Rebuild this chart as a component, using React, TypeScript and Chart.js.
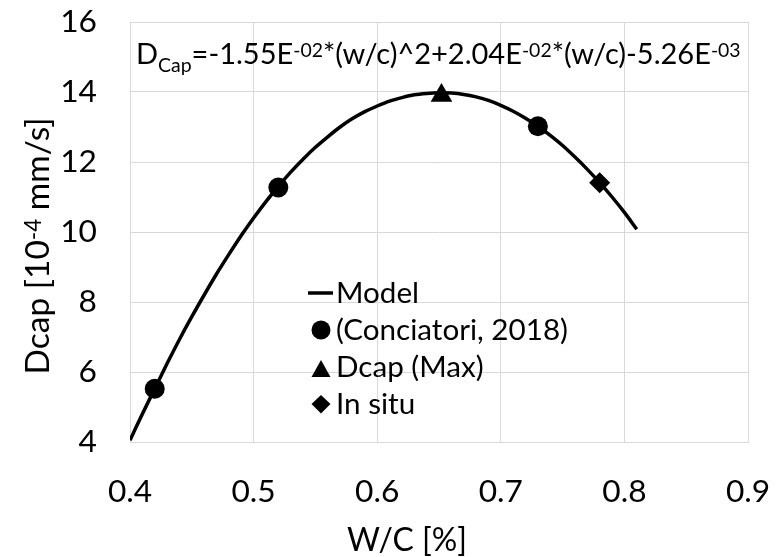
import React, { useEffect, useRef } from 'react';
import { Chart, registerables } from 'chart.js';

Chart.register(...registerables);

const FONT = 'Lato';

// Model curve
const modelX = [0.40, 0.41, 0.42, 0.43, 0.44, 0.45, 0.46, 0.47, 0.48, 0.49, 0.50, 0.51, 0.52, 0.53, 0.54, 0.55, 0.56, 0.57, 0.58, 0.59, 0.60, 0.61, 0.62, 0.63, 0.64, 0.65, 0.66, 0.67, 0.68, 0.69, 0.70, 0.71, 0.72, 0.73, 0.74, 0.75, 0.76, 0.77, 0.78, 0.79, 0.80, 0.81];
const modelY = [4.05, 4.80, 5.52, 6.24, 6.93, 7.58, 8.20, 8.80, 9.36, 9.90, 10.40, 10.87, 11.30, 11.71, 12.08, 12.42, 12.72, 13.00, 13.24, 13.44, 13.60, 13.74, 13.84, 13.92, 13.96, 13.98, 13.97, 13.93, 13.86, 13.76, 13.62, 13.45, 13.25, 13.02, 12.76, 12.47, 12.14, 11.79, 11.41, 11.00, 10.56, 10.08];

const conciatoriX = [0.42, 0.52, 0.73];
const conciatoriY = [5.52, 11.27, 13.02];
const maxX = [0.652];
const maxY = [13.9];
const inSituX = [0.78];
const inSituY = [11.41];

const xMin = 0.4, xMax = 0.9, xStep = 0.1;
const yMin = 4, yMax = 16, yStep = 2;

const legendLabels = ['Model', '(Conciatori, 2018)', 'Dcap (Max)', 'In situ'];
const xTitle = 'W/C [%]';
const yTitleParts = [
  { t: 'Dcap [10', k: 'n' },
  { t: '-4', k: 'sup' },
  { t: ' mm/s]', k: 'n' },
];
const equationParts = [
  { t: 'D', k: 'n' },
  { t: 'Cap', k: 'sub' },
  { t: '=-1.55E', k: 'n' },
  { t: '-02', k: 'sup' },
  { t: '*(w/c)^2+2.04E', k: 'n' },
  { t: '-02', k: 'sup' },
  { t: '*(w/c)-5.26E', k: 'n' },
  { t: '-03', k: 'sup' },
];

type Part = { t: string; k: string };

const SMALL = 0.67;

function textW(ctx: CanvasRenderingContext2D, text: string, size: number) {
  ctx.font = `${size}px ${FONT}`;
  return ctx.measureText(text).width;
}
function fitSize(ctx: CanvasRenderingContext2D, text: string, target: number) {
  return (100 * target) / textW(ctx, text, 100);
}
function richW(ctx: CanvasRenderingContext2D, parts: Part[], size: number) {
  let w = 0;
  for (const p of parts) w += textW(ctx, p.t, p.k === 'n' ? size : size * SMALL);
  return w;
}
function fitRich(ctx: CanvasRenderingContext2D, parts: Part[], target: number) {
  return (100 * target) / richW(ctx, parts, 100);
}
function drawRich(ctx: CanvasRenderingContext2D, parts: Part[], x: number, y: number, size: number, subOff: number, supOff: number) {
  let cx = x;
  ctx.textAlign = 'left';
  ctx.textBaseline = 'alphabetic';
  for (const p of parts) {
    const s = p.k === 'n' ? size : size * SMALL;
    ctx.font = `${s}px ${FONT}`;
    const dy = p.k === 'sub' ? subOff : p.k === 'sup' ? -supOff : 0;
    ctx.fillText(p.t, cx, y + dy);
    cx += ctx.measureText(p.t).width;
  }
}

function zeroPad(s: any) {
  s.paddingTop = 0;
  s.paddingBottom = 0;
  s.paddingLeft = 0;
  s.paddingRight = 0;
}

export default function App() {
  const ref = useRef<HTMLCanvasElement | null>(null);

  useEffect(() => {
    const canvas = ref.current;
    if (!canvas) return;
    const scratch = document.createElement('canvas').getContext('2d') as CanvasRenderingContext2D;
    const tickSize = (fitSize(scratch, '0.4', 44) + fitSize(scratch, '16', 37)) / 2;
    const legendSize = fitSize(scratch, legendLabels[1], 232);
    const eqSize = fitRich(scratch, equationParts, 605);
    const yTitleSize = fitRich(scratch, yTitleParts, 257);
    const xTitleSize = fitSize(scratch, xTitle, 120);

    const overlay = {
      id: 'overlay',
      afterDraw(chart: any) {
        const ctx: CanvasRenderingContext2D = chart.ctx;
        const ca = chart.chartArea;
        ctx.save();
        ctx.fillStyle = '#000';
        ctx.strokeStyle = '#000';

        // equation
        drawRich(ctx, equationParts, ca.left + 6, ca.top + 41.5, eqSize, eqSize * 0.3, eqSize * 0.23);

        // legend
        const lx = 321;
        const tx = 336;
        const rows = [303, 340, 377, 414];
        ctx.font = `${legendSize}px ${FONT}`;
        ctx.textAlign = 'left';
        ctx.textBaseline = 'alphabetic';
        legendLabels.forEach((l, i) => ctx.fillText(l, tx, rows[i]));
        // line symbol
        ctx.lineWidth = 3.5;
        ctx.beginPath();
        ctx.moveTo(308, 293);
        ctx.lineTo(333, 293);
        ctx.stroke();
        // circle
        ctx.beginPath();
        ctx.arc(lx, 330, 9.5, 0, Math.PI * 2);
        ctx.fill();
        // triangle
        ctx.beginPath();
        ctx.moveTo(lx, 360);
        ctx.lineTo(lx + 9.5, 377);
        ctx.lineTo(lx - 9.5, 377);
        ctx.closePath();
        ctx.fill();
        // diamond
        ctx.beginPath();
        ctx.moveTo(lx, 395);
        ctx.lineTo(lx + 9.5, 404);
        ctx.lineTo(lx, 413.5);
        ctx.lineTo(lx - 9.5, 404);
        ctx.closePath();
        ctx.fill();

        // x title
        ctx.font = `${xTitleSize}px ${FONT}`;
        ctx.textAlign = 'center';
        ctx.fillText(xTitle, 407, 551);

        // y title
        const w = richW(ctx, yTitleParts, yTitleSize);
        ctx.translate(49, 246);
        ctx.rotate(-Math.PI / 2);
        drawRich(ctx, yTitleParts, -w / 2, 0, yTitleSize, 0, yTitleSize * 0.25);
        ctx.restore();
      },
    };

    const chart = new Chart(canvas, {
      type: 'scatter',
      data: {
        datasets: [
          {
            label: legendLabels[1],
            data: conciatoriX.map((x, i) => ({ x, y: conciatoriY[i] })),
            pointStyle: 'circle',
            pointRadius: 10,
            backgroundColor: '#000',
            borderColor: '#000',
            borderWidth: 0,
            order: 0,
          },
          {
            label: legendLabels[2],
            data: maxX.map((x, i) => ({ x, y: maxY[i] })),
            pointStyle: 'triangle',
            pointRadius: 12.5,
            backgroundColor: '#000',
            borderColor: '#000',
            borderWidth: 0,
            order: 0,
          },
          {
            label: legendLabels[3],
            data: inSituX.map((x, i) => ({ x, y: inSituY[i] })),
            pointStyle: 'rectRot',
            pointRadius: 10.5,
            backgroundColor: '#000',
            borderColor: '#000',
            borderWidth: 0,
            order: 0,
          },
          {
            label: legendLabels[0],
            data: modelX.map((x, i) => ({ x, y: modelY[i] })),
            showLine: true,
            pointRadius: 0,
            borderColor: '#000',
            borderWidth: 3.5,
            tension: 0.3,
            order: 1,
          } as any,
        ],
      },
      options: {
        responsive: false,
        animation: false,
        layout: { padding: { top: 22, right: 30, left: 0, bottom: 0 } },
        plugins: { legend: { display: false }, tooltip: { enabled: false } },
        scales: {
          x: {
            type: 'linear',
            min: xMin,
            max: xMax,
            ticks: {
              stepSize: xStep,
              color: '#000',
              font: { family: FONT, size: tickSize },
              padding: 31,
              maxRotation: 0,
              callback: (v: any) => Number(v).toFixed(1),
            },
            grid: { color: '#d9d9d9', lineWidth: 1, drawTicks: false },
            border: { color: '#d9d9d9', width: 1 },
            afterFit: (s: any) => { s.height = 115; zeroPad(s); },
          },
          y: {
            type: 'linear',
            min: yMin,
            max: yMax,
            ticks: {
              stepSize: yStep,
              color: '#000',
              font: { family: FONT, size: tickSize },
              padding: 33,
              callback: (v: any) => String(Math.round(Number(v))),
            },
            grid: { color: '#d9d9d9', lineWidth: 1, drawTicks: false },
            border: { color: '#d9d9d9', width: 1 },
            afterFit: (s: any) => { s.width = 130; zeroPad(s); },
          },
        },
      },
      plugins: [overlay],
    } as any);

    return () => chart.destroy();
  }, []);

  return (
    <div style={{ position: 'absolute', left: 0, top: 0, width: 778, height: 557, background: '#fff' }}>
      <canvas ref={ref} width={778} height={557} style={{ display: 'block' }} />
    </div>
  );
}
